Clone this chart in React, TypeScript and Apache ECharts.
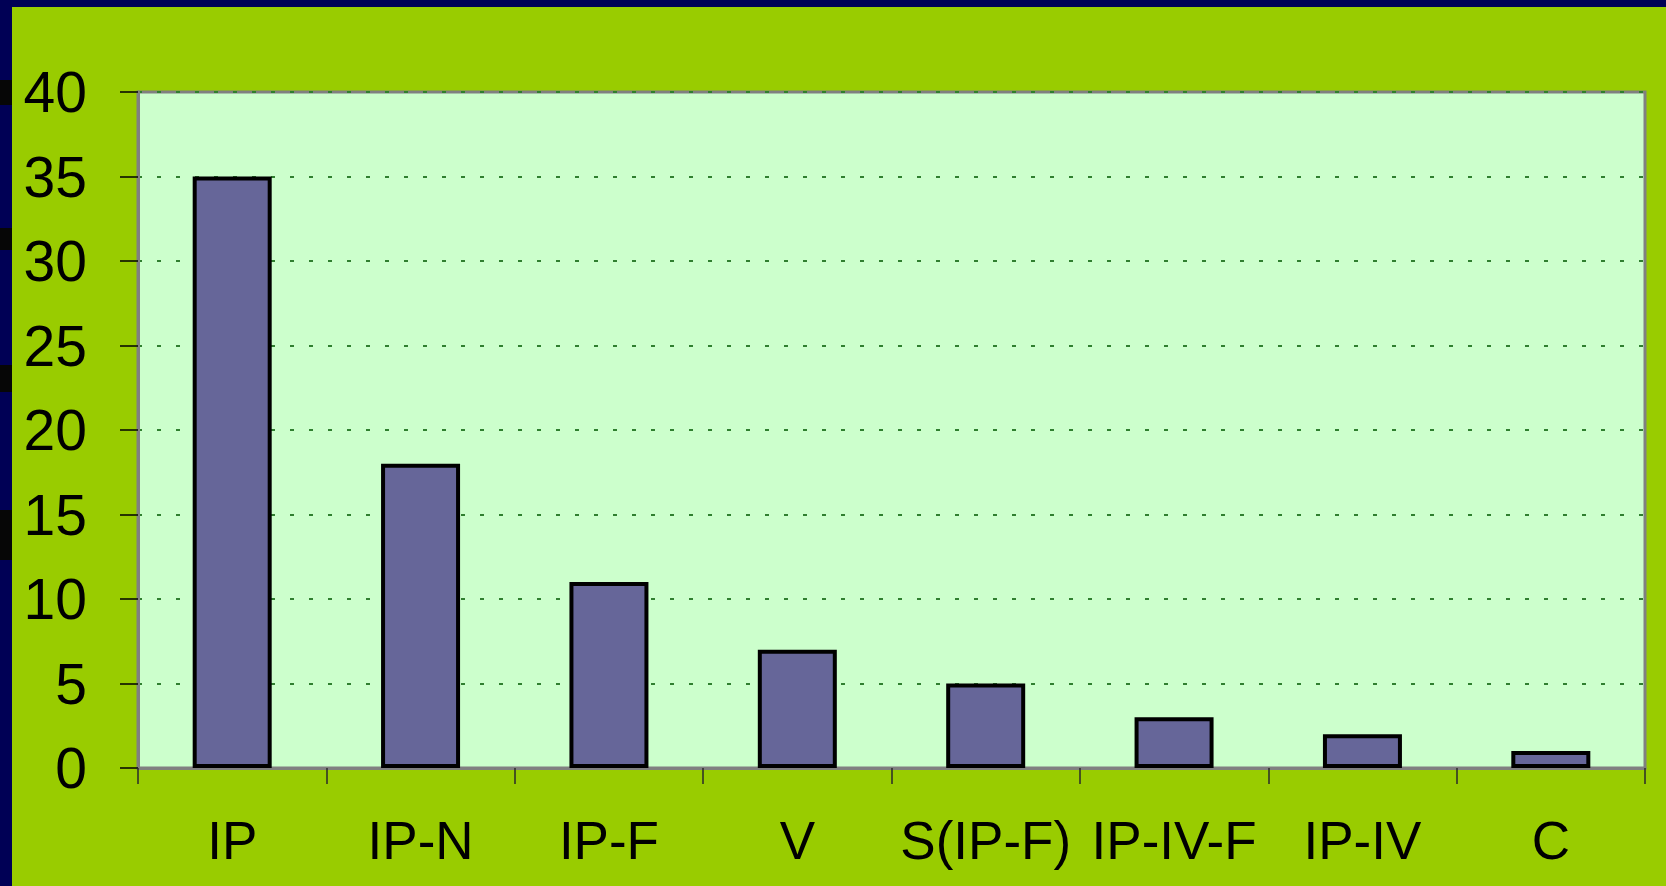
import React, { useEffect, useRef } from "react";
import * as echarts from "echarts";

const categories = ["IP", "IP-N", "IP-F", "V", "S(IP-F)", "IP-IV-F", "IP-IV", "C"];
const values = [35, 18, 11, 7, 5, 3, 2, 1];
const yMin = 0;
const yMax = 40;
const yStep = 5;

export default function App() {
  const ref = useRef<HTMLDivElement>(null);

  useEffect(() => {
    if (!ref.current) return;
    const chart = echarts.init(ref.current, null, { renderer: "svg" });
    const navy = "#000055";
    const blk = "#060606";
    chart.setOption({
      animation: false,
      backgroundColor: "#99CC00",
      graphic: [
        { type: "rect", shape: { x: 0, y: 0, width: 1666, height: 7 }, style: { fill: navy }, z: 100 },
        { type: "rect", shape: { x: 0, y: 0, width: 12, height: 886 }, style: { fill: navy }, z: 100 },
        { type: "rect", shape: { x: 0, y: 80, width: 12, height: 25 }, style: { fill: blk }, z: 101 },
        { type: "rect", shape: { x: 0, y: 228, width: 12, height: 22 }, style: { fill: blk }, z: 101 },
        { type: "rect", shape: { x: 0, y: 365, width: 12, height: 27 }, style: { fill: blk }, z: 101 },
        { type: "rect", shape: { x: 0, y: 510, width: 12, height: 50 }, style: { fill: blk }, z: 101 },
      ],
      grid: {
        left: 138,
        top: 92,
        right: 21,
        bottom: 118,
        show: true,
        backgroundColor: "#CCFFCC",
        borderColor: "#808080",
        borderWidth: 3,
      },
      xAxis: {
        type: "category",
        data: categories,
        boundaryGap: true,
        axisLine: { show: true, lineStyle: { color: "#808080", width: 3 } },
        axisTick: { show: true, interval: 0, length: 16, lineStyle: { color: "#2a2a2a", width: 1.5 } },
        axisLabel: {
          interval: 0,
          margin: 46,
          color: "#000",
          fontSize: 53,
          fontFamily: "Liberation Sans, Arial, sans-serif",
        },
        splitLine: { show: false },
      },
      yAxis: {
        type: "value",
        min: yMin,
        max: yMax,
        interval: yStep,
        axisLine: { show: true, lineStyle: { color: "#808080", width: 3 } },
        axisTick: { show: true, length: 18, lineStyle: { color: "#000", width: 1.5 } },
        axisLabel: {
          margin: 51,
          color: "#000",
          fontSize: 57,
          fontFamily: "Liberation Sans, Arial, sans-serif",
        },
        splitLine: {
          show: true,
          lineStyle: { color: "#2f7f2f", width: 2, type: [4, 15] },
        },
      },
      series: [
        {
          type: "bar",
          data: values,
          barWidth: 79,
          itemStyle: { color: "#666699", borderColor: "#000", borderWidth: 4 },
        },
      ],
    });
    return () => chart.dispose();
  }, []);

  return (
    <div
      ref={ref}
      style={{ position: "absolute", left: 0, top: 0, width: 1666, height: 886 }}
    />
  );
}
